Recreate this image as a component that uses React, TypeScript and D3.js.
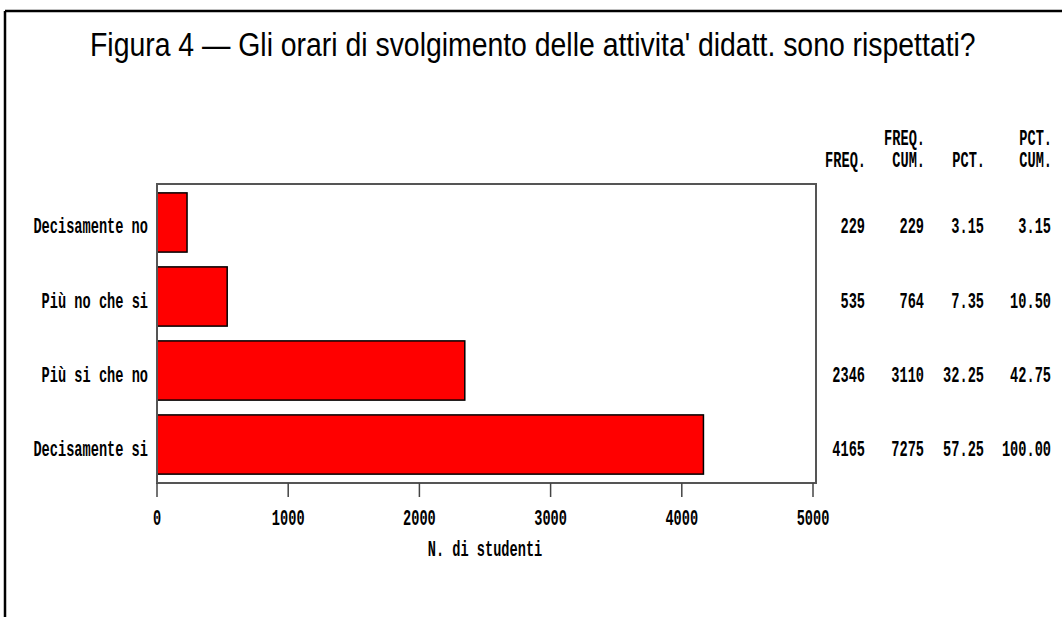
import React, { useLayoutEffect, useRef, useState } from "react";
import * as d3 from "d3";

const categories = ["Decisamente no", "Più no che si", "Più si che no", "Decisamente si"];
const freq = [229, 535, 2346, 4165];
const freqCum = [229, 764, 3110, 7275];
const pct = ["3.15", "7.35", "32.25", "57.25"];
const pctCum = ["3.15", "10.50", "42.75", "100.00"];
const xTicks = [0, 1000, 2000, 3000, 4000, 5000];
const colHeadTop = ["", "FREQ.", "", "PCT."];
const colHeadBottom = ["FREQ.", "CUM.", "PCT.", "CUM."];
const titleText = "Figura 4 \u2014 Gli orari di svolgimento delle attivita' didatt. sono rispettati?";
const xLabel = "N. di studenti";

const W = 1062;
const H = 617;
const plotLeft = 157;
const plotRight = 816;
const plotTop = 184;
const plotBottom = 483;
const colRight = [866, 925, 985, 1052];
const titleLeft = 90;
const titleWidth = 886;

const MONO = "'Liberation Mono', 'DejaVu Sans Mono', monospace";

function T({ x, y, children, anchor = "end", size = 22, sx = 0.62 }: any) {
  return (
    <text
      transform={`translate(${x},${y}) scale(${sx},1)`}
      textAnchor={anchor}
      dominantBaseline="central"
      fontFamily={MONO}
      fontWeight="bold"
      fontSize={size}
      fill="#000"
    >
      {children}
    </text>
  );
}

export default function App() {
  const titleRef = useRef<SVGTextElement>(null);
  const [tsx, setTsx] = useState(0.8);
  useLayoutEffect(() => {
    if (titleRef.current) {
      const w = titleRef.current.getComputedTextLength();
      if (w > 0) setTsx(titleWidth / w);
    }
  }, []);

  const x = d3.scaleLinear().domain([0, 5000]).range([157, 813]);
  const y = d3
    .scaleBand<string>()
    .domain(categories)
    .range([plotTop, plotBottom])
    .paddingInner(0.2)
    .paddingOuter(0.12);
  const bw = y.bandwidth();
  const cols = [freq.map(String), freqCum.map(String), pct, pctCum];

  return (
    <svg width={W} height={H} style={{ position: "absolute", left: 0, top: 0, background: "#fff" }}>
      <rect x={0} y={0} width={W} height={H} fill="#fff" />
      {/* outer border */}
      <line x1={5} y1={11} x2={W} y2={11} stroke="#000" strokeWidth={2.5} />
      <line x1={5} y1={11} x2={5} y2={H} stroke="#000" strokeWidth={2.5} />

      {/* title */}
      <text
        ref={titleRef}
        transform={`translate(${titleLeft},56) scale(${tsx},1)`}
        fontFamily="'Liberation Sans', Arial, sans-serif"
        fontSize={33}
        fill="#000"
      >
        {titleText}
      </text>

      {/* bars */}
      {categories.map((c, i) => (
        <rect
          key={c}
          x={x(0)}
          y={y(c)!}
          width={x(freq[i]) - x(0)}
          height={bw}
          fill="#ff0000"
          stroke="#000"
          strokeWidth={1.5}
        />
      ))}

      {/* frame */}
      <rect
        x={plotLeft}
        y={plotTop}
        width={plotRight - plotLeft}
        height={plotBottom - plotTop}
        fill="none"
        stroke="#555"
        strokeWidth={2}
      />

      {/* ticks */}
      {xTicks.map((t) => (
        <g key={t}>
          <line x1={x(t)} x2={x(t)} y1={plotBottom} y2={497} stroke="#444" strokeWidth={1.5} />
          <T x={x(t)} y={519} anchor="middle">
            {t}
          </T>
        </g>
      ))}
      <T x={485} y={550} anchor="middle">
        {xLabel}
      </T>

      {/* category labels */}
      {categories.map((c) => (
        <T key={c} x={148} y={y(c)! + bw / 2 + 5}>
          {c}
        </T>
      ))}

      {/* stats headers */}
      {colHeadTop.map((h, j) =>
        h ? (
          <T key={"ht" + j} x={colRight[j]} y={139}>
            {h}
          </T>
        ) : null
      )}
      {colHeadBottom.map((h, j) => (
        <T key={"hb" + j} x={colRight[j]} y={161}>
          {h}
        </T>
      ))}

      {/* stats values */}
      {cols.map((col, j) =>
        col.map((v, i) => (
          <T key={j + "-" + i} x={colRight[j] - 1} y={y(categories[i])! + bw / 2 + 5}>
            {v}
          </T>
        ))
      )}
    </svg>
  );
}
